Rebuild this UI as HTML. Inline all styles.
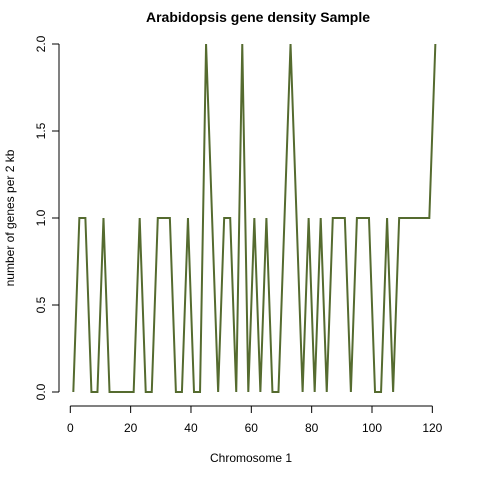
<!DOCTYPE html>
<html><head><meta charset="utf-8"><style>
body{margin:0;background:#fff}
svg{display:block;font-family:"Liberation Sans",sans-serif}
</style></head><body>
<svg id="chart" width="480" height="480">
<text x="258" y="22" text-anchor="middle" font-weight="bold" font-size="14">Arabidopsis gene density Sample</text>
<text x="251" y="462" text-anchor="middle" font-size="12">Chromosome 1</text>
<text transform="translate(14,218) rotate(-90)" text-anchor="middle" font-size="12">number of genes per 2 kb</text>
<g id="axes"></g>
<polyline id="line" fill="none" stroke="#556b2f" stroke-width="2"/>
</svg>
<script>
const positions=[1,3,5,7,9,11,13,15,17,19,21,23,25,27,29,31,33,35,37,39,41,43,45,47,49,51,53,55,57,59,61,63,65,67,69,71,73,75,77,79,81,83,85,87,89,91,93,95,97,99,101,103,105,107,109,111,113,115,117,119,121];
const density=[0,1,1,0,0,1,0,0,0,0,0,1,0,0,1,1,1,0,0,1,0,0,2,1,0,1,1,0,2,0,1,0,1,0,0,1,2,1,0,1,0,1,0,1,1,1,0,1,1,1,0,0,1,0,1,1,1,1,1,1,2];
const xTicks=[0,20,40,60,80,100,120];
const yTicks=[0,0.5,1,1.5,2];
const yTickLabels=["0.0","0.5","1.0","1.5","2.0"];
const X=v=>70.3+v*3.017, Y=v=>392-v*174;
const ns="http://www.w3.org/2000/svg";
const axes=document.getElementById('axes');
function mk(t,a,p){const e=document.createElementNS(ns,t);for(const k in a)e.setAttribute(k,a[k]);(p||axes).appendChild(e);return e;}
const xa=mk('line',{x1:X(0),x2:X(120),y1:406,y2:406,stroke:'#000'});


xTicks.forEach(t=>{
 const l=mk('line',{x1:X(t),x2:X(t),y1:406,y2:413,stroke:'#000'});
 
 
 const tx=mk('text',{x:X(t),y:432,'text-anchor':'middle','font-size':12});
 tx.textContent=t;
 
 
});
const ya=mk('line',{x1:59,x2:59,y1:Y(0),y2:Y(2),stroke:'#000'});


yTicks.forEach((t,i)=>{
 const l=mk('line',{x1:52,x2:59,y1:Y(t),y2:Y(t),stroke:'#000'});
 
 
 const tx=mk('text',{transform:`translate(45,${Y(t)}) rotate(-90)`,'text-anchor':'middle','font-size':12});
 tx.textContent=yTickLabels[i];
 
 
});
document.getElementById('line').setAttribute('points',positions.map((p,i)=>X(p)+','+Y(density[i])).join(' '));
</script>
</body></html>
